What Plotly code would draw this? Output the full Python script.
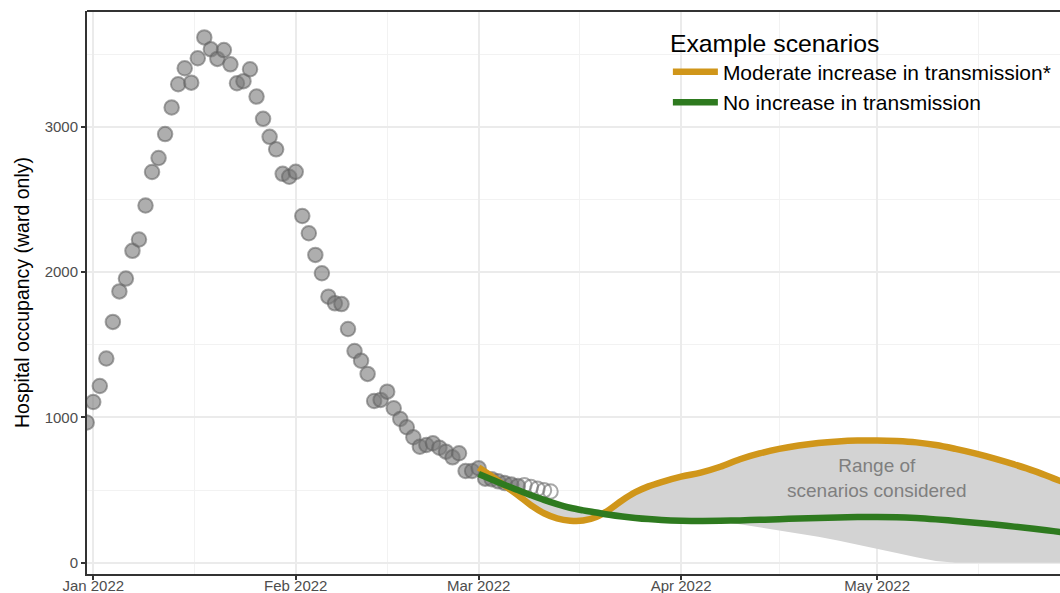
import pandas as pd
import plotly.graph_objects as go

# ---------------- data ----------------
obs_start = "2021-12-31"
obs_values = [
    965, 1106, 1216, 1405, 1657, 1867, 1955, 2146, 2224, 2458,
    2689, 2785, 2950, 3133, 3293, 3403, 3304, 3472, 3615, 3533,
    3467, 3528, 3430, 3300, 3314, 3396, 3208, 3055, 2931, 2845,
    2676, 2656, 2690, 2386, 2267, 2118, 1992, 1831, 1785, 1780,
    1608, 1457, 1390, 1299, 1113, 1120, 1177, 1063, 989, 932,
    863, 798, 810, 822, 791, 764, 725, 753, 631, 631,
    650, 578, 575, 560, 548, 538, 528,
]
recent_start = "2022-03-08"
recent_values = [533, 520, 508, 498, 490]

scenario_dates = [
    "2022-03-01", "2022-03-03", "2022-03-05", "2022-03-07", "2022-03-09",
    "2022-03-11", "2022-03-13", "2022-03-15", "2022-03-17", "2022-03-19",
    "2022-03-21", "2022-03-23", "2022-03-25", "2022-03-27", "2022-03-29",
    "2022-04-01", "2022-04-04", "2022-04-07", "2022-04-10", "2022-04-13",
    "2022-04-16", "2022-04-19", "2022-04-22", "2022-04-25", "2022-04-28",
    "2022-05-01", "2022-05-04", "2022-05-07", "2022-05-10", "2022-05-13",
    "2022-05-16", "2022-05-19", "2022-05-22", "2022-05-25", "2022-05-28",
    "2022-05-31",
]
moderate_increase = [
    655, 595, 530, 465, 395, 340, 305, 289, 290, 315,
    365, 430, 485, 525, 555, 592, 620, 660, 712, 752,
    783, 806, 823, 834, 840, 841, 837, 828, 810, 783,
    752, 716, 676, 632, 580, 530,
]
no_increase = [
    610, 572, 535, 500, 465, 432, 403, 378, 360, 345,
    330, 318, 308, 300, 294, 289, 287, 288, 291, 295,
    299, 304, 308, 311, 314, 315, 313, 307, 298, 287,
    275, 262, 248, 233, 217, 200,
]
range_low = [
    610, 572, 530, 465, 395, 340, 305, 289, 290, 315,
    330, 318, 308, 300, 294, 289, 287, 282, 265, 243,
    225, 203, 178, 152, 125, 97, 67, 38, 12, 0,
    0, 0, 0, 0, 0, 0,
]
range_high = [max(a, b) for a, b in zip(moderate_increase, no_increase)]

month_ticks = ["2022-01-01", "2022-02-01", "2022-03-01", "2022-04-01", "2022-05-01"]
month_minor = ["2022-01-16 12:00", "2022-02-15", "2022-03-16 12:00", "2022-04-16", "2022-05-16 12:00"]
y_ticks = [0, 1000, 2000, 3000]
y_minor = [500, 1500, 2500, 3500]

obs_dates = pd.date_range(obs_start, periods=len(obs_values), freq="D")
recent_dates = pd.date_range(recent_start, periods=len(recent_values), freq="D")

FONT = "Liberation Sans, Arial, Helvetica, sans-serif"
ORANGE = "#D0961A"
GREEN = "#2E7A1F"

fig = go.Figure()

# scenario range ribbon
fig.add_trace(go.Scatter(
    x=scenario_dates, y=range_low, mode="lines",
    line=dict(width=0, color="rgba(0,0,0,0)", shape="linear"),
    showlegend=False, hoverinfo="skip",
))
fig.add_trace(go.Scatter(
    x=scenario_dates, y=range_high, mode="lines", fill="tonexty",
    fillcolor="#D3D3D3", line=dict(width=0, color="rgba(0,0,0,0)", shape="spline"),
    showlegend=False, hoverinfo="skip",
))

# observed data
fig.add_trace(go.Scatter(
    x=obs_dates, y=obs_values, mode="markers",
    marker=dict(size=14.5, color="rgba(120,120,120,0.6)",
                line=dict(width=2, color="rgba(95,95,95,0.55)")),
    showlegend=False,
))
fig.add_trace(go.Scatter(
    x=recent_dates, y=recent_values, mode="markers",
    marker=dict(size=14.5, color="rgba(255,255,255,0)",
                line=dict(width=2, color="rgba(110,110,110,0.6)")),
    showlegend=False,
))

# scenarios
fig.add_trace(go.Scatter(
    x=scenario_dates, y=moderate_increase, mode="lines",
    name="Moderate increase in transmission*",
    line=dict(color=ORANGE, width=6.5, shape="spline"),
))
fig.add_trace(go.Scatter(
    x=scenario_dates, y=no_increase, mode="lines",
    name="No increase in transmission",
    line=dict(color=GREEN, width=6.5, shape="spline"),
))

fig.add_annotation(
    x="2022-05-01", y=580, text="Range of<br>scenarios considered",
    showarrow=False, font=dict(family=FONT, size=19, color="#7F7F7F"),
)

fig.add_shape(type="line", xref="paper", yref="paper", x0=0, x1=1, y0=1, y1=1,
              line=dict(color="#333333", width=2), layer="above")

fig.update_layout(
    width=1060, height=593,
    margin=dict(l=87, r=0, t=11, b=19),
    paper_bgcolor="white", plot_bgcolor="white",
    font=dict(family=FONT, color="#000000"),
    legend=dict(
        title=dict(text="Example scenarios", font=dict(family=FONT, size=24.8, color="#000000")),
        font=dict(family=FONT, size=21, color="#000000"),
        x=0.597, y=0.985, xanchor="left", yanchor="top",
        itemwidth=45,
        bgcolor="rgba(0,0,0,0)", traceorder="normal",
    ),
    xaxis=dict(
        type="date",
        range=["2021-12-31 01:00", "2022-05-29 00:00"],
        tickmode="array", tickvals=month_ticks, tickformat="%b %Y",
        ticks="outside", ticklen=4, tickwidth=1.5, tickcolor="#333333",
        tickfont=dict(family=FONT, size=15, color="#4D4D4D"),
        ticklabelstandoff=-7,
        showline=True, linecolor="#333333", linewidth=2,
        showgrid=True, gridcolor="#EBEBEB", gridwidth=1.6,
        minor=dict(tickmode="array", tickvals=month_minor, showgrid=True,
                   gridcolor="#F2F2F2", gridwidth=1, ticks=""),
        zeroline=False, automargin=False,
    ),
    yaxis=dict(
        range=[-78, 3797],
        tickmode="array", tickvals=y_ticks,
        ticks="outside", ticklen=4, tickwidth=1.5, tickcolor="#333333",
        tickfont=dict(family=FONT, size=15, color="#4D4D4D"),
        showline=True, linecolor="#333333", linewidth=2,
        showgrid=True, gridcolor="#EBEBEB", gridwidth=1.6,
        minor=dict(tickmode="array", tickvals=y_minor, showgrid=True,
                   gridcolor="#F2F2F2", gridwidth=1, ticks=""),
        zeroline=False, automargin=False,
        title=dict(text="Hospital occupancy (ward only)", standoff=10,
                   font=dict(family=FONT, size=19.5, color="#000000")),
    ),
)

fig.write_html("out.html", config={"displayModeBar": False},
               post_script="document.body.style.margin='0px';")
